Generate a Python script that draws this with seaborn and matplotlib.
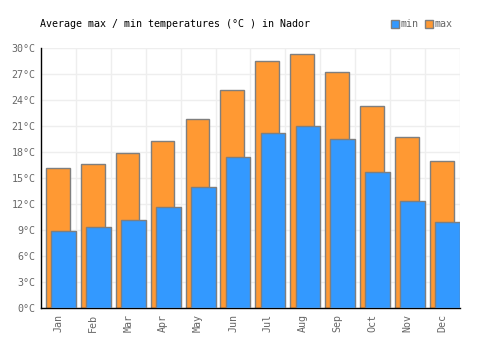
import numpy as np
import pandas as pd
import seaborn as sns
import matplotlib.pyplot as plt
from matplotlib.patches import Patch
from matplotlib.ticker import FixedLocator

sns.set_style("white")
plt.rcParams['font.family'] = ['DejaVu Sans Mono', 'DejaVu Sans']

# Data
months = ["Jan", "Feb", "Mar", "Apr", "May", "Jun", "Jul", "Aug", "Sep", "Oct", "Nov", "Dec"]
t_max = [16.1, 16.6, 17.9, 19.3, 21.8, 25.2, 28.5, 29.3, 27.2, 23.3, 19.7, 17.0]
t_min = [8.9, 9.4, 10.2, 11.7, 14.0, 17.4, 20.2, 21.0, 19.5, 15.7, 12.3, 9.9]
y_ticks = list(range(0, 31, 3))

df = pd.DataFrame({"month": months, "max": t_max, "min": t_min})

col_max = "#ff9933"
col_min = "#3399ff"
edge = "#7f7f7f"
grey = "#666666"

fig = plt.figure(figsize=(5, 3.5), dpi=100)
ax = fig.add_axes([0.082, 0.12, 0.838, 0.743])

# max bars behind, min bars in front shifted to the right
sns.barplot(data=df, x="month", y="max", color=col_max, width=0.68,
            edgecolor=edge, linewidth=1, saturation=1, ax=ax, zorder=2)
n = len(ax.patches)
sns.barplot(data=df, x="month", y="min", color=col_min, width=0.71,
            edgecolor=edge, linewidth=1, saturation=1, ax=ax, zorder=3)
for p in ax.patches[:n]:
    p.set_x(p.get_x() - 0.02)
for p in ax.patches[n:]:
    p.set_x(p.get_x() + 0.145)

ax.set_xlim(-0.5, 11.5)
ax.set_ylim(0, 30)
ax.set_yticks(y_ticks)
ax.set_yticklabels([f"{v}°C" for v in y_ticks], color=grey, fontsize=7.2)
ax.set_xticks(range(len(months)))
ax.set_xticklabels(months, rotation=90, color=grey, fontsize=7.2)
ax.xaxis.set_minor_locator(FixedLocator(np.arange(0.5, 12, 1)))
ax.tick_params(axis="both", which="both", length=0, pad=4)
ax.grid(True, axis="y", color="#eeeeee", linewidth=1, zorder=0)
ax.grid(True, axis="x", which="minor", color="#eeeeee", linewidth=1, zorder=0)
ax.set_axisbelow(True)
ax.set_xlabel("")
ax.set_ylabel("")

for s in ["top", "right"]:
    ax.spines[s].set_visible(False)
ax.spines["left"].set_color("black")
ax.spines["bottom"].set_color("black")
ax.spines["left"].set_linewidth(1)
ax.spines["bottom"].set_linewidth(1)

fig.text(0.08, 0.931, "Average max / min temperatures (°C ) in Nador",
         fontsize=7.2, color="black", va="center", ha="left")

handles = [Patch(facecolor=col_min, edgecolor=edge, label="min"),
           Patch(facecolor=col_max, edgecolor=edge, label="max")]
fig.legend(handles=handles, loc="center right", bbox_to_anchor=(0.915, 0.931),
           ncol=2, frameon=False, fontsize=7.2, handlelength=0.8, handleheight=0.8,
           handletextpad=0.2, columnspacing=0.6, labelcolor=grey, borderpad=0)

fig.savefig("out.png", dpi=100)
